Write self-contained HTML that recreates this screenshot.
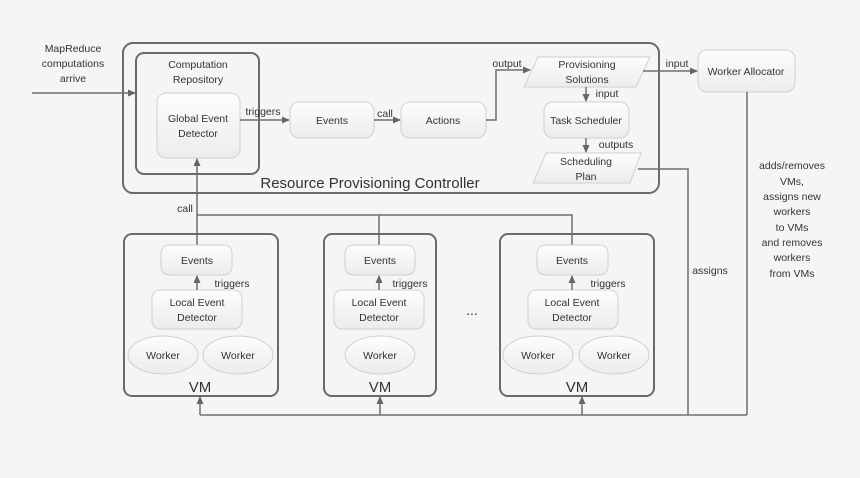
<!DOCTYPE html>
<html><head><meta charset="utf-8"><style>
html,body{margin:0;padding:0;background:#f5f5f5;}
svg{display:block;}
text{font-family:"Liberation Sans",sans-serif;fill:#333;font-size:10.5px;text-anchor:middle;}
.b{fill:url(#g);stroke:#d0d0d0;stroke-width:1;}
.c{fill:none;stroke:#6a6a6a;stroke-width:2;}
.l{fill:none;stroke:#6e6e6e;stroke-width:1.5;}
</style></head><body>
<svg width="860" height="478" viewBox="0 0 860 478">
<defs>
<linearGradient id="g" x1="0" y1="0" x2="0" y2="1"><stop offset="0" stop-color="#fdfdfd"/><stop offset="1" stop-color="#ececec"/></linearGradient>
<marker id="a" markerWidth="8" markerHeight="8" refX="7" refY="4" orient="auto" markerUnits="userSpaceOnUse"><path d="M0,0.5 L8,4 L0,7.5 z" fill="#666"/></marker>
</defs>
<rect width="860" height="478" fill="#f5f5f5"/>
<!-- controller -->
<rect class="c" x="123" y="43" width="536" height="150" rx="10"/>
<rect class="c" x="136" y="53" width="123" height="121" rx="8"/>
<text x="198" y="68">Computation</text><text x="198" y="83">Repository</text>
<rect class="b" x="157" y="93" width="83" height="65" rx="9"/>
<text x="198" y="122">Global Event</text><text x="198" y="137">Detector</text>
<rect class="b" x="290" y="102" width="84" height="36" rx="9"/><text x="332" y="124">Events</text>
<rect class="b" x="401" y="102" width="85" height="36" rx="9"/><text x="443" y="124">Actions</text>
<polygon class="b" points="538,57 650,57 636,87 524,87"/>
<text x="587" y="68">Provisioning</text><text x="587" y="83">Solutions</text>
<rect class="b" x="544" y="102" width="85" height="36" rx="9"/><text x="586" y="124">Task Scheduler</text>
<polygon class="b" points="546,153 641,153 630,183 533,183"/>
<text x="586" y="165">Scheduling</text><text x="586" y="180">Plan</text>
<text x="370" y="188" style="font-size:15px">Resource Provisioning Controller</text>
<rect class="b" x="698" y="50" width="97" height="42" rx="9"/><text x="746" y="75">Worker Allocator</text>
<!-- top text -->
<text x="73" y="52">MapReduce</text><text x="73" y="67">computations</text><text x="73" y="82">arrive</text>
<line class="l" x1="32" y1="93" x2="135" y2="93" marker-end="url(#a)"/>
<line class="l" x1="240" y1="120" x2="289" y2="120" marker-end="url(#a)"/><text x="263" y="115">triggers</text>
<line class="l" x1="374" y1="120" x2="400" y2="120" marker-end="url(#a)"/><text x="385" y="117">call</text>
<polyline class="l" points="486,120 496,120 496,70 530,70" marker-end="url(#a)"/><text x="507" y="67">output</text>
<line class="l" x1="643" y1="71" x2="697" y2="71" marker-end="url(#a)"/><text x="677" y="67">input</text>
<line class="l" x1="586" y1="87" x2="586" y2="101" marker-end="url(#a)"/><text x="607" y="97">input</text>
<line class="l" x1="586" y1="138" x2="586" y2="152" marker-end="url(#a)"/><text x="616" y="148">outputs</text>
<polyline class="l" points="638,169 688,169 688,415"/>
<line class="l" x1="747" y1="92" x2="747" y2="415"/>
<polyline class="l" points="200,415 747,415"/>
<text x="710" y="274">assigns</text>
<text x="792" y="169">adds/removes</text><text x="792" y="185">VMs,</text><text x="792" y="200">assigns new</text><text x="792" y="215">workers</text><text x="792" y="231">to VMs</text><text x="792" y="246">and removes</text><text x="792" y="261">workers</text><text x="792" y="277">from VMs</text>
<!-- call lines -->
<line class="l" x1="197" y1="245" x2="197" y2="159" marker-end="url(#a)"/>
<polyline class="l" points="197,215 572,215 572,245"/>
<line class="l" x1="379" y1="215" x2="379" y2="245"/>
<text x="185" y="212">call</text>
<!-- VMs -->
<rect class="c" x="124" y="234" width="154" height="162" rx="8"/>
<rect class="c" x="324" y="234" width="112" height="162" rx="8"/>
<rect class="c" x="500" y="234" width="154" height="162" rx="8"/>
<g>
<rect class="b" x="161" y="245" width="71" height="30" rx="8"/><text x="197" y="264">Events</text>
<rect class="b" x="152" y="290" width="90" height="39" rx="8"/><text x="197" y="306">Local  Event</text><text x="197" y="321">Detector</text>
<line class="l" x1="197" y1="290" x2="197" y2="276" marker-end="url(#a)"/><text x="232" y="287">triggers</text>
<ellipse class="b" cx="163" cy="355" rx="35" ry="19"/><text x="163" y="359">Worker</text>
<ellipse class="b" cx="238" cy="355" rx="35" ry="19"/><text x="238" y="359">Worker</text>
<text x="200" y="392" style="font-size:15px">VM</text>
</g>
<g>
<rect class="b" x="345" y="245" width="70" height="30" rx="8"/><text x="380" y="264">Events</text>
<rect class="b" x="334" y="290" width="90" height="39" rx="8"/><text x="379" y="306">Local  Event</text><text x="379" y="321">Detector</text>
<line class="l" x1="379" y1="290" x2="379" y2="276" marker-end="url(#a)"/><text x="410" y="287">triggers</text>
<ellipse class="b" cx="380" cy="355" rx="35" ry="19"/><text x="380" y="359">Worker</text>
<text x="380" y="392" style="font-size:15px">VM</text>
</g>
<text x="472" y="315" style="font-size:14px">...</text>
<g>
<rect class="b" x="537" y="245" width="71" height="30" rx="8"/><text x="572" y="264">Events</text>
<rect class="b" x="528" y="290" width="90" height="39" rx="8"/><text x="572" y="306">Local  Event</text><text x="572" y="321">Detector</text>
<line class="l" x1="572" y1="290" x2="572" y2="276" marker-end="url(#a)"/><text x="608" y="287">triggers</text>
<ellipse class="b" cx="538" cy="355" rx="35" ry="19"/><text x="538" y="359">Worker</text>
<ellipse class="b" cx="614" cy="355" rx="35" ry="19"/><text x="614" y="359">Worker</text>
<text x="577" y="392" style="font-size:15px">VM</text>
</g>
<line class="l" x1="200" y1="415" x2="200" y2="397" marker-end="url(#a)"/>
<line class="l" x1="380" y1="415" x2="380" y2="397" marker-end="url(#a)"/>
<line class="l" x1="582" y1="415" x2="582" y2="397" marker-end="url(#a)"/>
</svg>
</body></html>
